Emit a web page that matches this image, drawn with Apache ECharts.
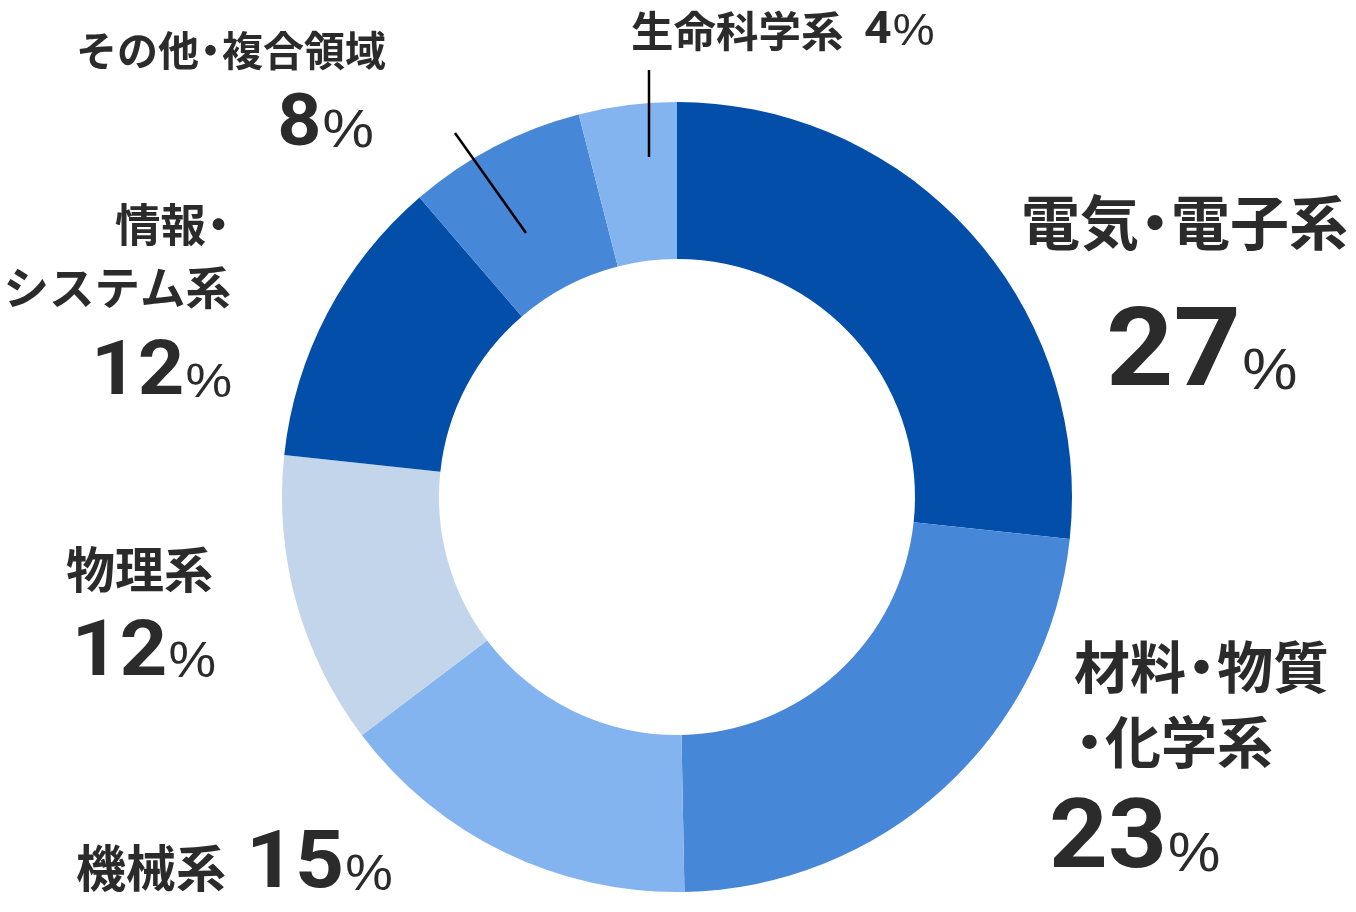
<!DOCTYPE html>
<html>
<head>
<meta charset="utf-8">
<script src="https://cdn.jsdelivr.net/npm/echarts@6/dist/echarts.min.js"></script>
<style>html,body{margin:0;padding:0;background:#fff;}#c{width:1356px;height:912px;}</style>
</head>
<body>
<div id="c"></div>
<script>
// ---- data ----
const categories = ['電気・電子系', '材料・物質・化学系', '機械系', '物理系', '情報・システム系', 'その他・複合領域', '生命科学系'];
const values = [26.7, 23.0, 15.0, 12.0, 12.0, 7.3, 4.0];
const pctLabels = ['27', '23', '15', '12', '12', '8', '4'];
// label line breaks as displayed
const nameLines = [['電気・電子系'], ['材料・物質', '・化学系'], ['機械系'], ['物理系'], ['情報・', 'システム系'], ['その他・複合領域'], ['生命科学系']];

// ---- styles ----
const colors = ['#034ea9', '#4787d7', '#84b4ef', '#c2d5ea', '#034ea9', '#4787d7', '#84b4ef'];
const TXT = '#2b2b2b';
const JP = '"Noto Sans CJK JP", sans-serif';
const NUM = 'Roboto, "Liberation Sans", sans-serif';
const PCT = '"Liberation Sans", Arial, sans-serif';

// layout of each label: name block + pct block
const layout = [
  {nx: 1021, ny: 223, ns: 59, lh: 75, na: 'left', px: 1106, py: 357, ps: 110, pp: 58, pa: 'left'},
  {nx: 1074, ny: 667, ns: 56, lh: 75, na: 'left', px: 1049, py: 843, ps: 96, pp: 55, pa: 'left'},
  {nx: 76, ny: 868, ns: 50, lh: 60, na: 'left', px: 246, py: 867, ps: 80, pp: 50, pa: 'left'},
  {nx: 66, ny: 569, ns: 49, lh: 60, na: 'left', px: 216, py: 655, ps: 78, pp: 50, pa: 'right'},
  {nx: 231, ny: 225, ns: 45.5, lh: 63, na: 'right', px: 232, py: 375, ps: 76, pp: 49, pa: 'right'},
  {nx: 76, ny: 50, ns: 41, lh: 50, na: 'left', px: 374, py: 127, ps: 72, pp: 54, pa: 'right'},
  {nx: 631, ny: 31, ns: 42.5, lh: 50, na: 'left', px: 864, py: 32, ps: 45, pp: 44, pa: 'left'}
];
const leaders = [
  {x1: 455, y1: 133, x2: 526, y2: 233},
  {x1: 649, y1: 70, x2: 649, y2: 157}
];

function nameRich(line) {
  // render the middle dot in a narrower slot, as in the original typesetting
  return line.split('・').map(s => s ? '{t|' + s + '}' : '').join('{d|・}');
}

const graphics = [];
categories.forEach((c, i) => {
  const L = layout[i];
  nameLines[i].forEach((line, k) => {
    graphics.push({
      type: 'text', x: L.nx, y: L.ny + k * L.lh, silent: true, z: 100,
      style: {
        text: nameRich(line), align: L.na, verticalAlign: 'middle',
        rich: {
          t: {fontFamily: JP, fontWeight: 'bold', fontSize: L.ns, fill: TXT, color: TXT},
          d: {fontFamily: JP, fontWeight: 'bold', fontSize: L.ns, fill: TXT, color: TXT, width: Math.round(L.ns * 0.55), align: 'center'}
        }
      }
    });
  });
  graphics.push({
    type: 'text', x: L.px, y: L.py, silent: true, z: 100, scaleX: 1.07,
    style: {
      text: '{n|' + pctLabels[i] + '}{p|%}', align: L.pa, verticalAlign: 'middle',
      rich: {
        n: {fontFamily: NUM, fontWeight: 'bold', fontSize: L.ps, fill: TXT, color: TXT},
        p: {fontFamily: PCT, fontWeight: 'normal', fontSize: L.pp, fill: TXT, color: TXT,
            padding: [Math.round(0.6 * (L.ps - L.pp)), 0, 0, 1]}
      }
    }
  });
});
leaders.forEach(l => graphics.push({type: 'line', silent: true, z: 100, shape: l, style: {stroke: '#000', lineWidth: 2.5}}));

const chart = echarts.init(document.getElementById('c'), null, {renderer: 'canvas'});
chart.setOption({
  animation: false,
  backgroundColor: '#fff',
  series: [{
    type: 'pie',
    center: [677, 497],
    radius: [238, 395],
    startAngle: 90,
    clockwise: true,
    silent: true,
    z: 1,
    label: {show: false},
    labelLine: {show: false},
    itemStyle: {borderWidth: 0},
    data: categories.map((c, i) => ({name: c, value: values[i], itemStyle: {color: colors[i]}}))
  }],
  graphic: graphics
});
</script>
</body>
</html>
